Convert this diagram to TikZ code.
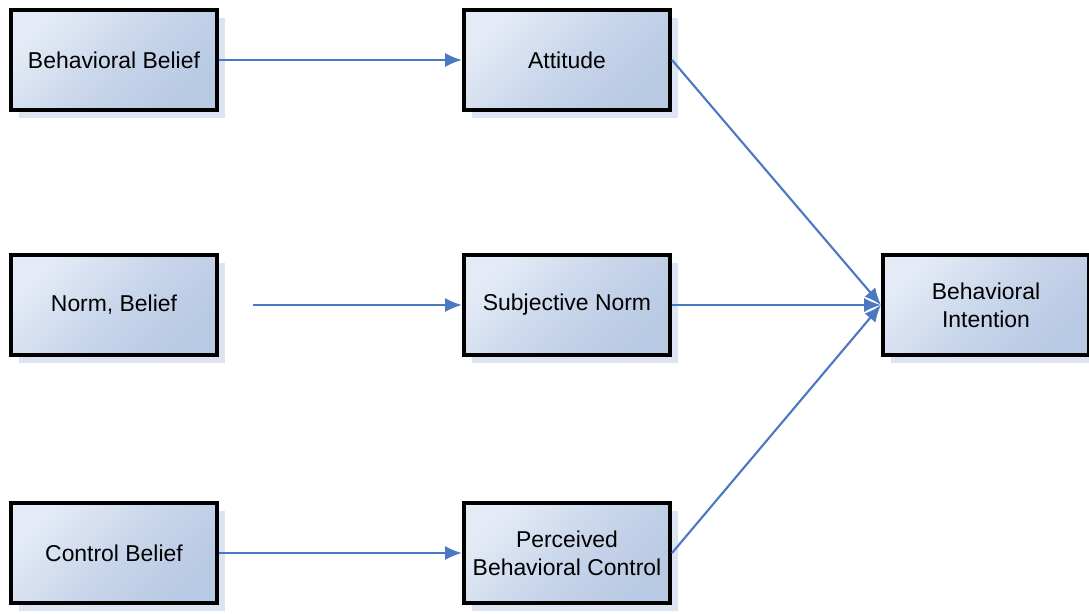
\documentclass[tikz,border=0pt]{standalone}
\usepackage{fontspec}
\setmainfont{Liberation Sans}
\usetikzlibrary{arrows.meta,shadows}
\definecolor{boxlight}{HTML}{E4EBF6}
\definecolor{boxmid}{HTML}{C9D6EB}
\definecolor{boxdark}{HTML}{B8C9E3}
\definecolor{shadowblue}{HTML}{DCE4F1}
\definecolor{arrowblue}{HTML}{4A78C2}

\begin{document}
\begin{tikzpicture}[x=0.025cm,y=-0.025cm,
        block/.style={draw=black,line width=2.8pt,minimum width=5.15cm,minimum height=2.5cm,
            align=center,font=\fontsize{16.3}{20}\selectfont,
            left color=boxlight,right color=boxdark,middle color=boxmid,shading angle=45,
            drop shadow={shadow xshift=0.2cm,shadow yshift=-0.2cm,fill=shadowblue,opacity=1}},
        link/.style={draw=arrowblue,line width=1.5pt,-{Latex[length=12pt,width=10pt]}}]
        \useasboundingbox (0,0) rectangle (1089,613);
        \clip (0,0) rectangle (1089,613);
        \node[block] (bb) at (114,60) {Behavioral Belief};
        \node[block] (nb) at (114,305) {Norm, Belief};
        \node[block] (cb) at (114,553) {Control Belief};
        \node[block] (att) at (567,60) {Attitude};
        \node[block] (sn) at (567,305) {Subjective Norm};
        \node[block] (pbc) at (567,553) {Perceived\\Behavioral Control};
        \node[block] (bi) at (986,305) {Behavioral\\Intention};
        \coordinate (nbstart) at (253,305);
        \draw[link] (bb.east) -- (att.west);
        \draw[link] (nbstart) -- (sn.west);
        \draw[link] (cb.east) -- (pbc.west);
        \draw[link] (att.east) -- (bi.west);
        \draw[link] (sn.east) -- (bi.west);
        \draw[link] (pbc.east) -- (bi.west);
\end{tikzpicture}
\end{document}
